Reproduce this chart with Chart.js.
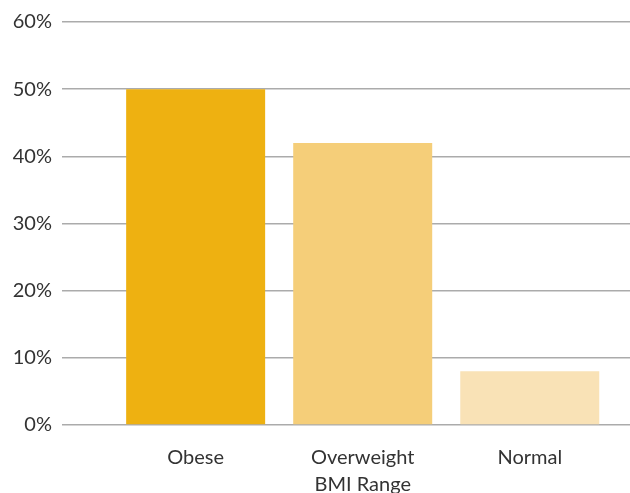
<!DOCTYPE html>
<html>
<head>
<meta charset="utf-8">
<script src="https://cdn.jsdelivr.net/npm/chart.js@4/dist/chart.umd.min.js"></script>
<style>
  html, body { margin: 0; padding: 0; background: #fff; }
  #wrap { width: 630px; height: 493px; position: relative; }
</style>
</head>
<body>
<div id="wrap"><canvas id="chart-bmi"></canvas></div>
<script>
const categories = ['Obese', 'Overweight', 'Normal'];
const xTitle = 'BMI Range';
const shares = [50, 42, 8];
const barColors = ['#EEB111', '#F5CE79', '#F9E2B6'];
const yTicks = [0, 10, 20, 30, 40, 50, 60];

const TEXT = '#333333';
const GRID = '#ababab';

const ctx = document.getElementById('chart-bmi');
new Chart(ctx, {
  type: 'bar',
  data: {
    datasets: [{
      label: 'Share',
      data: shares.map((v, i) => ({ x: i, y: v })),
      backgroundColor: barColors,
      borderWidth: 0,
      barPercentage: 0.832,
      categoryPercentage: 1.0,
    }]
  },
  options: {
    responsive: true,
    maintainAspectRatio: false,
    animation: false,
    layout: { padding: { top: 18, right: 0, left: 0, bottom: 0 } },
    plugins: {
      legend: { display: false },
      tooltip: { enabled: false }
    },
    scales: {
      x: {
        type: 'linear',
        offset: false,
        min: -0.8,
        max: 2.6,
        afterBuildTicks: (scale) => { scale.ticks = categories.map((_, i) => ({ value: i })); },
        afterFit: (scale) => { scale.height = 68; },
        grid: { display: false, drawTicks: false },
        border: { display: false },
        ticks: {
          color: TEXT,
          padding: 19,
          maxRotation: 0,
          autoSkip: false,
          font: { family: 'Lato', size: 20, lineHeight: 1.35 },
          callback: (v) => v === 1 ? [categories[v], xTitle] : categories[v]
        }
      },
      y: {
        min: 0,
        max: 60,
        afterBuildTicks: (scale) => { scale.ticks = yTicks.map((v) => ({ value: v })); },
        afterFit: (scale) => { scale.width = 62; },
        grid: { color: GRID, lineWidth: 1.5, drawTicks: false },
        border: { display: false },
        ticks: {
          color: TEXT,
          padding: 10,
          font: { family: 'Lato', size: 20 },
          callback: (v) => v + '%'
        }
      }
    }
  }
});
</script>
</body>
</html>
